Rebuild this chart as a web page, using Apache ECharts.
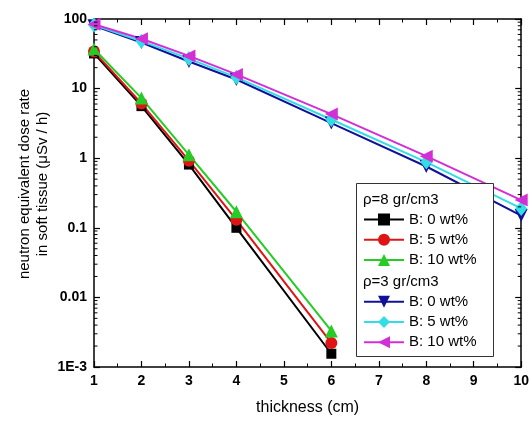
<!DOCTYPE html>
<html>
<head>
<meta charset="utf-8">
<script src="https://cdn.jsdelivr.net/npm/echarts@6/dist/echarts.min.js"></script>
<style>
  html, body { margin: 0; padding: 0; background: #fff; }
  #chart { width: 532px; height: 421px; }
</style>
</head>
<body>
<div id="chart"></div>
<script>
// Shield thickness (cm) for each material density
const thicknessDense = [1, 2, 3, 4, 6];
const thicknessLight = [1, 2, 3, 4, 6, 8, 10];

// Neutron equivalent dose rate in soft tissue (µSv/h), rho = 8 gr/cm3
const dense_B0  = [32, 5.6, 0.81, 0.100, 0.00155];
const dense_B5  = [34, 6.1, 0.92, 0.130, 0.00222];
const dense_B10 = [37, 7.3, 1.12, 0.170, 0.00330];

// rho = 3 gr/cm3
const light_B0  = [80, 46, 24.5, 13.5, 3.2, 0.76, 0.150];
const light_B5  = [82, 48, 27.0, 14.5, 3.6, 0.88, 0.190];
const light_B10 = [84, 52, 29.5, 16.0, 4.3, 1.07, 0.250];

// Tick labels of the logarithmic dose axis
const yTickValues = [0.001, 0.01, 0.1, 1, 10, 100];
const yTickLabels = ['1E-3', '0.01', '0.1', '1', '10', '100'];

// Group headers of the legend
const groupDense = 'ρ=8 gr/cm3';
const groupLight = 'ρ=3 gr/cm3';
const boronLabels = ['B: 0 wt%', 'B: 5 wt%', 'B: 10 wt%'];

const FONT = '"Liberation Sans", Arial, sans-serif';

// Minor ticks of the log axis at 2..9 of each decade
const minorTickValues = [];
for (let e = -3; e < 2; e++) {
  for (let m = 2; m <= 9; m++) minorTickValues.push(+(m * Math.pow(10, e)).toPrecision(3));
}

const SEP = ' | ';
function pairs(xs, ys) { return xs.map((x, i) => [x, ys[i]]); }

function lineSeries(group, label, xs, ys, color, symbol, size, rotate) {
  return {
    type: 'line',
    name: group + SEP + label,
    data: pairs(xs, ys),
    xAxisIndex: 0, yAxisIndex: 0,
    clip: false,
    symbol: symbol,
    symbolSize: size,
    symbolRotate: rotate || 0,
    showSymbol: true,
    lineStyle: { color: color, width: 2 },
    itemStyle: { color: color },
    emphasis: { disabled: true },
    z: 3
  };
}

const chart = echarts.init(document.getElementById('chart'), null, { renderer: 'canvas' });

const xAxisCommon = {
  type: 'value', min: 1, max: 10, interval: 1,
  axisLine: { show: true, lineStyle: { color: '#000', width: 1.5 } },
  axisTick: { show: true, inside: true, length: 6, lineStyle: { color: '#000', width: 1.2 } },
  minorTick: { show: true, splitNumber: 2, length: 3.5, lineStyle: { color: '#000', width: 1 } },
  splitLine: { show: false }
};
const yAxisCommon = {
  type: 'log', logBase: 10, min: 0.001, max: 100,
  axisLine: { show: true, lineStyle: { color: '#000', width: 1.5 } },
  axisTick: { show: true, inside: true, length: 6, lineStyle: { color: '#000', width: 1.2 } },
  splitLine: { show: false }
};

const legendCommon = {
  orient: 'vertical',
  left: 363,
  itemWidth: 40,
  itemHeight: 15,
  itemGap: 5.3,
  padding: 0,
  z: 10,
  selectedMode: false,
  textStyle: { fontFamily: FONT, fontSize: 15, color: '#000' },
  formatter: (name) => name.split(SEP)[1]
};

chart.setOption({
  animation: false,
  backgroundColor: '#fff',
  grid: { left: 94, right: 8, top: 19, bottom: 51 },
  xAxis: [
    Object.assign({}, xAxisCommon, {
      position: 'bottom',
      name: 'thickness (cm)',
      nameLocation: 'middle',
      nameGap: 33,
      nameTextStyle: { fontFamily: FONT, fontSize: 16, color: '#000' },
      axisLabel: { show: true, margin: 7, fontFamily: FONT, fontSize: 14, fontWeight: 'bold', color: '#000' }
    }),
    Object.assign({}, xAxisCommon, { position: 'top', axisLabel: { show: false } })
  ],
  yAxis: [
    Object.assign({}, yAxisCommon, {
      position: 'left',
      axisLabel: {
        show: true, margin: 7, fontFamily: FONT, fontSize: 14, fontWeight: 'bold', color: '#000',
        formatter: (v) => {
          const i = yTickValues.findIndex(t => Math.abs(Math.log10(t) - Math.log10(v)) < 1e-6);
          return i >= 0 ? yTickLabels[i] : '';
        }
      }
    }),
    Object.assign({}, yAxisCommon, { position: 'right', axisLabel: { show: false } })
  ],
  legend: [
    Object.assign({}, legendCommon, {
      top: 212,
      data: boronLabels.map(l => groupDense + SEP + l)
    }),
    Object.assign({}, legendCommon, {
      top: 294.2,
      data: boronLabels.map(l => groupLight + SEP + l)
    })
  ],
  graphic: [
    {
      type: 'text', x: 34, y: 184, rotation: Math.PI / 2, z: 10,
      style: {
        text: 'neutron equivalent dose rate\nin soft tissue (μSv / h)',
        font: '15px ' + FONT, fill: '#000',
        textAlign: 'center', textVerticalAlign: 'middle', lineHeight: 18
      }
    },
    {
      type: 'rect', z: 8,
      shape: { x: 356.5, y: 183.5, width: 137, height: 173 },
      style: { fill: '#fff', stroke: '#333', lineWidth: 1 }
    },
    {
      type: 'text', x: 363, y: 200, z: 11,
      style: { text: groupDense, font: '15px ' + FONT, fill: '#000', textVerticalAlign: 'middle' }
    },
    {
      type: 'text', x: 363, y: 281.5, z: 11,
      style: { text: groupLight, font: '15px ' + FONT, fill: '#000', textVerticalAlign: 'middle' }
    }
  ],
  series: [
    lineSeries(groupLight, boronLabels[0], thicknessLight, light_B0, '#10109a', 'triangle', 13, 180),
    lineSeries(groupLight, boronLabels[1], thicknessLight, light_B5, '#33dde6', 'diamond', [12, 15], 0),
    lineSeries(groupLight, boronLabels[2], thicknessLight, light_B10, '#d22fd6', 'triangle', 13, 90),
    lineSeries(groupDense, boronLabels[0], thicknessDense, dense_B0, '#000000', 'rect', 10, 0),
    lineSeries(groupDense, boronLabels[1], thicknessDense, dense_B5, '#e01414', 'circle', 12, 0),
    lineSeries(groupDense, boronLabels[2], thicknessDense, dense_B10, '#25cc25', 'triangle', 13, 0),
    {
      // minor ticks of the log dose axis, drawn on the left and right frame
      type: 'custom',
      xAxisIndex: 0, yAxisIndex: 0,
      silent: true,
      clip: false,
      z: 4,
      data: minorTickValues.map(v => [1, v]),
      renderItem: (params, api) => {
        const v = api.value(1);
        const l = api.coord([1, v]);
        const r = api.coord([10, v]);
        const st = { stroke: '#000', lineWidth: 1 };
        return {
          type: 'group',
          children: [
            { type: 'line', shape: { x1: l[0], y1: l[1], x2: l[0] + 3.5, y2: l[1] }, style: st },
            { type: 'line', shape: { x1: r[0], y1: r[1], x2: r[0] - 3.5, y2: r[1] }, style: st }
          ]
        };
      }
    }
  ]
});
</script>
</body>
</html>
